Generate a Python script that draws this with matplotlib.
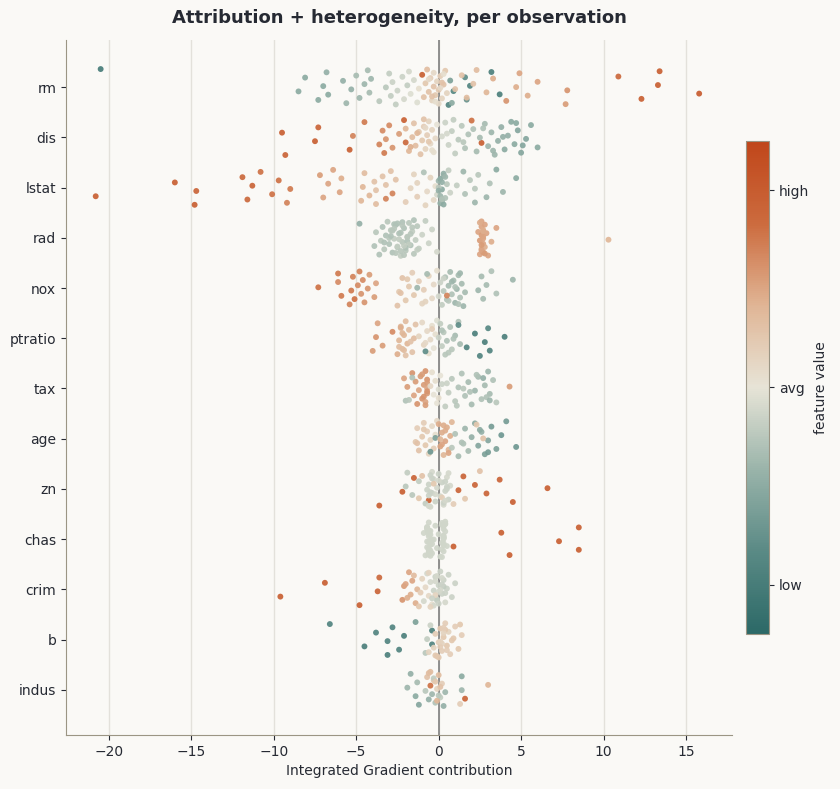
import matplotlib
matplotlib.use("Agg")
import matplotlib.pyplot as plt
import numpy as np
from matplotlib.colors import LinearSegmentedColormap

# features, top to bottom
features = ["rm", "dis", "lstat", "rad", "nox", "ptratio", "tax",
            "age", "zn", "chas", "crim", "b", "indus"]

# (contribution, standardized feature value)
rm_pts = [(-20.5, -2.0),
          (-8.5, -1.0), (-8.1, -1.0), (-7.3, -1.0), (-7.0, -1.0), (-6.8, -0.9), (-6.7, -1.0),
          (-5.8, -0.9), (-5.6, -0.8), (-5.3, -0.9), (-5.0, -0.7), (-4.8, -0.8), (-4.5, -0.8),
          (-4.3, -0.7), (-4.2, -0.7), (-4.1, -0.8), (-3.6, -0.5), (-3.2, -0.5), (-3.0, -0.4),
          (-2.9, -0.4), (-2.8, -0.3), (-2.6, -0.4), (-2.5, -0.3), (-2.2, -0.3), (-2.1, -0.2),
          (-1.9, -0.4), (-1.8, -0.2), (-1.7, -0.1), (-1.5, -0.2), (-1.3, -0.1), (-1.2, 0.1),
          (-1.0, 1.9), (-0.9, 0.6), (-0.8, 0.5), (-0.7, 0.7), (-0.6, 0.6), (-0.5, 0.4),
          (-0.4, 0.3), (-0.3, 0.6), (-0.3, 0.2), (-0.2, 0.5), (-0.1, 0.3), (0.0, 0.2),
          (0.0, 0.5), (0.1, 0.4), (0.2, 0.3), (0.3, 0.6), (0.4, 0.5), (0.5, 0.3),
          (-0.6, 0.2), (-0.2, 0.1), (0.1, 0.2), (0.3, 0.1), (-0.4, 0.6), (0.2, 0.6),
          (0.6, -1.8), (0.9, -1.7), (1.6, -1.6), (1.7, -1.5), (1.9, -1.8), (3.2, -1.9),
          (3.7, -1.9), (0.7, -1.2), (0.8, -1.0),
          (1.0, 0.6), (1.4, 0.6), (1.7, 0.7), (2.1, 0.6), (2.3, 0.7), (2.9, 0.8), (3.3, 0.9),
          (4.1, 1.2), (4.7, 0.9), (4.9, 1.0), (5.4, 0.9), (6.0, 1.0), (7.7, 1.1), (7.8, 1.2),
          (10.9, 1.7), (12.3, 1.9), (13.3, 1.9), (13.4, 1.9), (15.8, 2.0)]

dis_pts = [(-9.5, 1.9), (-9.3, 1.8), (-7.5, 1.9), (-7.3, 1.8), (-5.4, 1.9), (-5.2, 1.4),
           (-4.5, 1.5), (-3.6, 1.4), (-3.4, 1.3), (-3.3, 1.5), (-3.2, 1.2), (-3.0, 1.3),
           (-2.8, 1.2), (-2.4, 1.1), (-2.1, 1.9), (-2.0, 1.7),
           (-2.0, 0.8), (-1.8, 0.8), (-1.6, 0.7), (-1.5, 0.6), (-1.4, 0.7), (-1.2, 0.5),
           (-1.1, 0.6), (-1.0, 0.5), (-0.9, 0.4), (-0.8, 0.3), (-0.7, 0.4), (-0.6, 0.3),
           (-0.5, 0.2), (-0.4, 0.3), (-0.3, 0.1), (-0.2, 0.2), (-0.1, 0.0), (-1.7, 0.9),
           (-1.3, 0.8), (-0.9, 0.6), (-0.6, 0.5), (-0.8, 0.2), (-0.4, 0.1),
           (0.2, -0.2), (0.4, -0.3), (0.6, -0.3), (0.8, -0.4), (1.0, -0.4), (1.2, -0.5),
           (1.4, -0.5), (1.6, -0.6), (1.8, -0.6), (2.0, 1.6), (2.6, 1.9), (2.1, -0.6),
           (2.3, -0.7), (2.5, -0.7), (2.8, -0.7), (3.0, -0.8), (3.2, -0.8), (3.4, -0.8),
           (3.6, -0.9), (3.8, -0.9), (4.0, -1.0), (4.2, -0.9), (4.4, -1.0), (4.6, -1.0),
           (4.8, -1.1), (5.0, -1.1), (5.3, -1.1), (5.6, -1.0), (6.0, -1.0), (0.5, -0.2),
           (0.9, -0.4), (1.5, -0.5), (2.7, -0.6), (3.3, -0.8), (3.9, -0.9), (4.7, -1.0),
           (5.1, -1.1)]

lstat_pts = [(-20.8, 1.9), (-16.0, 1.9), (-14.8, 1.9), (-14.7, 1.8), (-11.9, 1.7),
             (-11.6, 1.7), (-11.3, 1.8), (-10.8, 1.6), (-10.1, 1.6), (-9.7, 1.6), (-9.2, 1.4),
             (-9.0, 1.5), (-7.2, 1.1), (-7.0, 1.0), (-6.7, 1.0), (-6.4, 1.0), (-6.0, 1.0),
             (-5.9, 0.9), (-4.7, 0.8), (-4.6, 0.8), (-4.5, 0.7), (-4.2, 0.8), (-3.9, 0.6),
             (-3.8, 0.7), (-3.8, 0.6), (-3.4, 0.6), (-3.2, 1.4), (-3.2, 0.6), (-2.9, 0.6),
             (-2.8, 1.4), (-2.6, 0.6), (-2.0, 0.4), (-1.7, 0.3), (-1.5, 0.3), (-1.3, 0.4),
             (-1.3, 0.3), (-0.8, 0.3), (-0.7, 0.2), (-0.5, 0.3), (-0.3, 0.2), (-0.2, 0.1),
             (-0.9, -0.6), (-0.1, -0.2), (0.0, -0.8), (0.1, -0.9), (0.2, -1.0), (0.3, -0.8),
             (0.4, -0.6), (0.5, -0.5), (0.6, -0.4), (0.7, -0.3), (0.1, -1.0), (0.2, -0.8),
             (0.0, -0.5), (0.3, -0.9), (0.1, -0.8), (0.2, -0.9), (0.3, -1.0), (0.0, -0.9),
             (0.4, -0.8), (0.2, -0.6),
             (1.1, -0.4), (1.5, -0.8), (1.6, -0.6), (1.9, -0.5),
             (2.2, -0.8), (2.2, -0.5), (2.4, -0.5), (2.9, -0.8), (3.1, -0.6), (3.5, -1.0),
             (3.9, -0.8), (4.7, -1.0)]

rad_pts = [(-4.8, -0.9), (-3.9, -0.6), (-3.8, -0.5), (-3.6, -0.6), (-3.5, -0.5),
           (-3.4, -0.6), (-3.3, -0.5), (-3.2, -0.6), (-3.1, -0.5), (-3.0, -0.6), (-2.9, -0.5),
           (-2.8, -0.6), (-2.7, -0.4), (-2.6, -0.6), (-2.5, -0.5), (-2.4, -0.6), (-2.3, -0.4),
           (-2.2, -0.5), (-2.1, -0.6), (-2.0, -0.5), (-1.9, -0.4), (-1.8, -0.5), (-1.7, -0.6),
           (-1.6, -0.4), (-1.5, -0.5), (-1.4, -0.4), (-1.3, -0.5), (-1.2, -0.4), (-1.0, -0.3),
           (-0.8, -0.4), (-0.6, -0.3), (-0.4, -0.3), (-0.1, -0.2), (-3.0, -0.5), (-2.7, -0.6),
           (-2.5, -0.4), (-2.3, -0.6), (-2.1, -0.5), (-1.9, -0.6), (-1.6, -0.5), (-1.3, -0.4),
           (-2.9, -0.6), (-2.2, -0.6), (-1.8, -0.4), (-2.8, -0.5), (-2.6, -0.5), (-2.4, -0.4),
           (-2.2, -0.5), (-2.0, -0.6), (-1.7, -0.5), (-1.5, -0.6), (-3.3, -0.6), (-2.7, -0.5),
           (-2.3, -0.5), (-1.9, -0.5), (-2.5, -0.6), (-2.1, -0.4),
           (2.4, 1.0), (2.5, 1.0), (2.5, 1.1), (2.6, 1.0), (2.6, 0.9), (2.6, 1.1), (2.6, 1.0),
           (2.7, 1.0), (2.7, 0.9), (2.7, 1.1), (2.7, 1.0), (2.8, 1.0), (2.8, 0.9), (2.9, 1.0),
           (3.0, 1.0), (3.2, 0.9), (3.5, 1.0), (2.6, 1.0), (2.7, 1.0), (2.5, 0.9),
           (2.6, 1.1), (2.7, 0.9), (2.8, 1.1),
           (10.3, 0.8)]

nox_pts = [(-7.3, 1.6), (-6.1, 1.5), (-5.9, 1.5), (-6.1, 1.3), (-5.4, 1.4), (-5.3, 1.5),
           (-5.2, 1.4), (-5.1, 1.6), (-4.9, 1.3), (-4.8, 1.4), (-4.7, 1.2), (-4.6, 1.3),
           (-4.5, 1.2), (-4.3, 1.2), (-4.2, 1.1), (-3.9, 1.1), (-3.8, 1.0),
           (-2.5, 0.6), (-2.4, 0.5), (-2.2, 0.6), (-2.0, 0.5), (-1.8, 0.5), (-1.6, 0.4),
           (-1.5, 0.5), (-1.2, 0.4), (-1.0, 0.3), (-0.9, 0.4), (-0.6, 0.3), (-0.4, 0.2),
           (-0.3, 0.2), (-0.1, 0.1), (-2.3, 0.6), (-1.9, 0.5), (-0.8, 0.3),
           (-1.3, -0.8), (-0.7, -0.7),
           (0.0, -0.2), (0.1, -0.3), (0.2, -0.4), (0.3, -0.5), (0.4, -0.6), (0.5, -0.6),
           (0.6, -0.7), (0.7, -0.7), (0.8, -0.6), (0.9, -0.7), (1.0, -0.8), (1.1, -0.8),
           (1.2, -0.7), (1.3, -0.6), (1.4, -0.7), (1.5, -0.8), (1.6, -0.7), (0.3, -0.3),
           (0.6, -0.5), (1.0, -0.6), (1.3, -0.8), (0.5, 1.4), (0.8, -0.8), (1.2, -0.6),
           (2.4, -0.8), (2.6, -0.7), (2.7, -0.7), (2.9, -0.7), (3.2, -0.6), (3.5, -0.6),
           (4.5, -0.8)]

ptratio_pts = [(-4.0, 1.1), (-3.8, 1.2), (-3.7, 1.0), (-3.4, 1.1), (-2.8, 1.3),
               (-2.5, 0.9), (-2.4, 0.8), (-2.3, 0.8), (-2.2, 0.7), (-2.1, 0.8), (-2.0, 0.7),
               (-1.9, 0.8), (-1.8, 0.7), (-1.6, 0.6), (-1.5, 0.7), (-1.4, 0.6), (-2.4, 0.7),
               (-2.2, 0.8), (-2.0, 0.6), (-1.7, 0.6), (-2.3, 0.9), (-2.1, 0.7),
               (-1.2, 0.3), (-1.0, 0.2), (-0.9, 0.3), (-0.7, 0.2), (-0.6, 0.1), (-0.5, 0.2),
               (-0.4, 0.1), (-0.3, 0.0), (-0.2, 0.1), (-0.1, -0.1), (-0.8, 0.2), (-0.4, 0.4),
               (-0.8, -1.6),
               (0.0, -0.3), (0.1, -0.4), (0.2, -0.4), (0.3, -0.5), (0.4, -0.5), (0.5, -0.6),
               (0.7, -0.6), (0.8, -0.5), (1.0, -0.7), (1.2, -0.6), (1.3, -0.7), (0.2, -0.6),
               (0.6, -0.5), (0.9, -0.6), (1.2, -1.6),
               (1.7, -1.8), (2.2, -1.9), (2.5, -1.8), (2.8, -1.9), (3.0, -1.7), (3.1, -1.8),
               (4.0, -1.9)]

tax_pts = [(-2.1, 1.0), (-2.0, -0.6), (-1.9, 1.1), (-1.6, 1.2), (-1.5, 1.0), (-1.4, 1.1),
           (-1.3, 1.2), (-1.2, 1.0), (-1.1, 1.1), (-1.0, 1.2), (-0.9, 1.1), (-0.8, 1.2),
           (-0.7, 1.1), (-0.7, 1.2), (-0.8, 1.0), (-0.7, 1.0), (-1.0, 1.1), (-0.9, 1.2),
           (-0.7, 1.1), (-0.8, 1.1), (-0.7, 1.2), (-1.6, -0.6), (-1.8, -0.5),
           (-0.5, 0.2), (-0.4, 0.1), (-0.3, 0.0), (-0.2, 0.1), (-0.1, 0.0), (0.0, -0.1),
           (0.1, 0.0), (0.0, 0.1),
           (0.2, -0.3), (0.4, -0.4), (0.6, -0.4), (0.8, -0.5), (1.0, -0.5), (1.2, -0.6),
           (1.4, -0.6), (1.6, -0.6), (1.8, -0.7), (2.0, -0.7), (2.2, -0.8), (2.4, -0.7),
           (2.6, -0.6), (2.8, -0.7), (3.0, -0.8), (3.1, -0.7), (3.3, -0.6), (3.5, -0.5),
           (1.5, -0.5), (2.3, -0.6), (2.9, -0.6), (0.5, -0.3), (1.1, -0.5), (1.9, -0.6),
           (2.7, -0.9), (3.1, -0.8),
           (4.3, 1.1)]

age_pts = [(-1.4, 0.5), (-1.3, 0.4), (-1.2, 0.6), (-1.0, 0.5), (-0.9, 0.4), (-0.8, 0.5),
           (-0.7, 0.4), (-0.6, 0.3), (-0.5, 0.3), (-0.4, 0.2), (-0.3, 0.4), (-0.2, 0.1),
           (-0.1, 0.2), (-1.3, 0.6), (-0.9, 0.5), (-0.5, -1.4), (-0.2, -1.2),
           (0.0, 0.9), (0.1, 1.0), (0.2, 0.9), (0.3, 0.8), (0.4, 1.0), (0.5, 0.9), (0.6, 0.8),
           (0.7, 0.9), (0.8, 0.8), (0.2, 1.0), (0.4, 0.9), (0.6, 1.0), (0.1, 0.8), (0.3, 0.9),
           (0.8, -0.5), (1.0, -0.6), (1.2, -0.7), (1.4, -0.6), (1.6, -0.8), (1.8, -0.7),
           (2.0, -0.9), (2.2, -1.0), (2.4, -1.1), (2.6, -0.9), (2.8, -1.2), (3.0, -1.1),
           (3.2, -1.3), (3.5, -1.2), (3.8, -1.4), (4.1, -1.3), (1.5, -0.6), (2.5, -1.0),
           (3.0, -1.3), (2.7, 0.6), (2.3, 0.5),
           (4.7, -1.4)]

zn_pts = [(-3.6, 1.9), (-2.2, 1.9), (-1.5, 1.8), (-0.6, 1.9),
          (-2.0, -0.5), (-1.9, -0.4), (-1.6, -0.5), (-1.2, -0.4), (-0.8, -0.4), (-0.7, -0.3),
          (-1.0, 0.6), (-1.2, 0.5),
          (-0.6, -0.3), (-0.5, -0.2), (-0.4, -0.3), (-0.3, -0.2), (-0.2, -0.3), (-0.1, -0.2),
          (0.0, -0.3), (0.1, -0.2), (0.2, -0.3), (0.3, -0.2), (0.4, -0.3), (0.5, -0.2),
          (0.6, -0.3), (0.7, -0.2), (-0.4, -0.2), (-0.2, -0.2), (0.0, -0.2), (0.3, -0.3),
          (0.5, -0.3), (-0.5, -0.3), (0.2, 0.4), (-0.3, 0.5), (-0.6, -0.2), (-0.5, -0.3),
          (-0.4, -0.3), (0.4, -0.2), (0.5, -0.3), (0.6, -0.2), (-0.6, -0.3), (0.4, -0.3),
          (0.9, 0.4), (1.2, 1.8), (1.5, 1.8), (1.6, 0.5), (2.2, 1.8), (2.5, 0.6), (2.9, 1.8),
          (3.7, 1.8), (4.5, 1.9), (6.6, 1.9)]

chas_pts = [(-0.9, -0.25), (-0.8, -0.25), (-0.7, -0.25), (-0.7, -0.25), (-0.6, -0.25),
            (-0.6, -0.25), (-0.6, -0.25), (-0.5, -0.25), (-0.5, -0.25), (-0.4, -0.25),
            (-0.3, -0.25), (-0.2, -0.25), (-0.1, -0.25), (0.0, -0.25), (0.1, -0.25),
            (0.2, -0.25), (0.3, -0.25), (0.3, -0.25), (0.3, -0.25), (0.4, -0.25),
            (0.5, -0.25), (-0.6, -0.25), (-0.6, -0.25), (-0.5, -0.25), (-0.7, -0.25),
            (0.2, -0.25), (0.3, -0.25), (0.4, -0.25), (-0.4, -0.25), (-0.6, -0.25),
            (-0.5, -0.25), (0.3, -0.25), (0.2, -0.25), (-0.7, -0.25), (-0.6, -0.25),
            (-0.5, -0.25), (-0.6, -0.25), (-0.7, -0.25), (-0.5, -0.25), (0.3, -0.25),
            (0.2, -0.25), (0.3, -0.25), (0.4, -0.25), (-0.6, -0.25), (-0.4, -0.25),
            (0.3, -0.25), (-0.6, -0.25), (-0.5, -0.25), (0.2, -0.25), (0.3, -0.25),
            (-0.7, -0.25), (-0.6, -0.25), (0.3, -0.25), (0.4, -0.25),
            (0.9, 1.9), (3.8, 1.9), (4.3, 1.9), (7.3, 1.9), (8.5, 1.9), (8.5, 1.9)]

crim_pts = [(-9.6, 1.9), (-6.9, 1.9), (-4.8, 1.9), (-3.7, 1.8), (-3.6, 1.7),
            (-2.2, 1.2), (-2.1, 1.1), (-1.8, 1.0), (-1.7, 0.9), (-1.6, 1.0), (-1.4, 0.9),
            (-1.3, 0.8), (-1.5, 0.7), (-1.9, 0.9), (-2.0, 1.0),
            (-1.2, 0.5), (-1.1, 0.4), (-1.0, 0.3), (-0.9, -0.2), (-0.8, 0.2), (-0.7, -0.2),
            (-0.6, 0.2), (-0.5, -0.2), (-0.4, 0.1), (-0.3, -0.3), (-0.2, -0.3), (-0.1, -0.3),
            (0.0, -0.3), (0.1, -0.3), (0.2, -0.3), (0.3, -0.3), (0.4, -0.2), (0.5, -0.3),
            (0.6, -0.3), (0.8, -0.3), (1.0, -0.3), (-0.3, -0.2), (0.0, -0.2), (0.2, -0.2),
            (-0.1, -0.4), (0.3, -0.4), (-0.6, 0.3), (-0.2, 0.3), (-0.2, -0.2), (0.0, -0.3),
            (0.1, -0.2), (-0.1, -0.2), (-0.4, -0.3), (0.2, -0.3), (-0.5, 0.3), (0.4, -0.3)]

b_pts = [(-6.6, -1.8), (-4.5, -1.9), (-3.8, -1.8), (-3.1, -1.9), (-3.1, -1.8), (-2.8, -1.8),
         (-2.4, -1.8), (-2.1, -1.9), (-1.4, -1.2), (-0.4, -1.8), (-0.4, -1.9),
         (-0.8, -0.5), (-0.7, -0.4), (-0.5, -0.3), (-0.3, 0.3), (-0.2, 0.4), (-0.1, 0.5),
         (0.0, 0.4), (0.1, 0.5), (0.2, 0.4), (0.3, 0.5), (0.4, 0.4), (0.5, 0.5), (0.6, 0.3),
         (0.7, 0.4), (0.8, 0.5), (1.0, 0.4), (1.2, 0.5), (1.4, 0.4), (0.0, 0.5), (0.2, 0.3),
         (0.4, 0.5), (-0.6, 0.3), (0.9, 0.5), (1.3, 0.5), (0.1, 0.4), (0.3, 0.3), (-0.2, 0.5),
         (0.1, 0.3), (0.3, 0.4), (0.5, 0.4)]

indus_pts = [(-1.9, -0.8), (-1.7, -0.9), (-1.4, -1.0), (-1.3, -0.7), (-1.2, -1.1),
             (-0.8, -0.5), (-0.7, 0.6), (-0.6, -0.9), (-0.5, 1.6), (-0.5, 0.7), (-0.4, -0.8),
             (-0.3, 0.5), (-0.2, -0.6), (-0.1, 0.3), (0.0, 0.7), (0.1, -0.4), (0.2, 0.4),
             (0.3, -0.9), (0.4, -0.8), (-0.3, -0.4), (-0.1, 0.8), (0.1, 0.6), (-0.6, 0.7),
             (0.0, -0.5), (-0.2, 0.5),
             (1.3, 0.4), (1.4, -0.8), (1.4, -1.0), (1.6, 1.8), (3.0, 0.8)]

all_pts = [rm_pts, dis_pts, lstat_pts, rad_pts, nox_pts, ptratio_pts, tax_pts,
           age_pts, zn_pts, chas_pts, crim_pts, b_pts, indus_pts]

bg = "#faf9f6"
ink = "#262a33"
spine_col = "#9b9584"

cmap = LinearSegmentedColormap.from_list(
    "ig", ["#2c6967", "#5a8a85", "#9ab4aa", "#e7e4d7", "#e0b595", "#cc6b3e", "#c0461a"])

fig = plt.figure(figsize=(8.4, 7.89), dpi=100, facecolor=bg)
ax = fig.add_axes([0.0786, 0.0684, 0.793, 0.881])
ax.set_facecolor(bg)

for i, pts in enumerate(all_pts):
    arr = np.array(pts)
    x = arr[:, 0]
    c = arr[:, 1]
    # deterministic jitter within the row
    k = np.arange(len(x))
    jit = ((k * 0.6180339887 + i * 0.37) % 1.0 - 0.5) * 0.72
    sc = ax.scatter(x, i + jit, c=c, cmap=cmap, vmin=-2.5, vmax=2.5,
                    s=18, alpha=0.92, linewidths=0, zorder=3)

ax.axvline(0, color="#7f7f7f", lw=1.2, zorder=2)
ax.set_xlim(-22.6, 17.8)
ax.set_ylim(12.9, -0.94)
ax.set_yticks(range(len(features)))
ax.set_yticklabels(features)
ax.set_xticks([-20, -15, -10, -5, 0, 5, 10, 15])
ax.set_xticklabels(["\u221220", "\u221215", "\u221210", "\u22125", "0", "5", "10", "15"])
ax.grid(axis="x", color="#e3e1db", lw=1.0, zorder=0)
ax.set_axisbelow(True)

for s in ["top", "right"]:
    ax.spines[s].set_visible(False)
for s in ["left", "bottom"]:
    ax.spines[s].set_color(spine_col)
ax.tick_params(colors=ink, labelsize=10, color=ink)
ax.set_xlabel("Integrated Gradient contribution", fontsize=10, color=ink)
ax.set_title("Attribution + heterogeneity, per observation", fontsize=13,
             fontweight="bold", color=ink, pad=12)

cax = fig.add_axes([0.888, 0.1965, 0.0274, 0.625])
cb = fig.colorbar(sc, cax=cax)
cb.solids.set_alpha(1)
cb.set_ticks([-2, 0, 2])
cb.set_ticklabels(["low", "avg", "high"])
cb.outline.set_edgecolor(spine_col)
cax.tick_params(colors=ink, labelsize=10, color=ink)
cb.set_label("feature value", fontsize=10, color=ink)

fig.savefig("out.png", dpi=100, facecolor=bg)
